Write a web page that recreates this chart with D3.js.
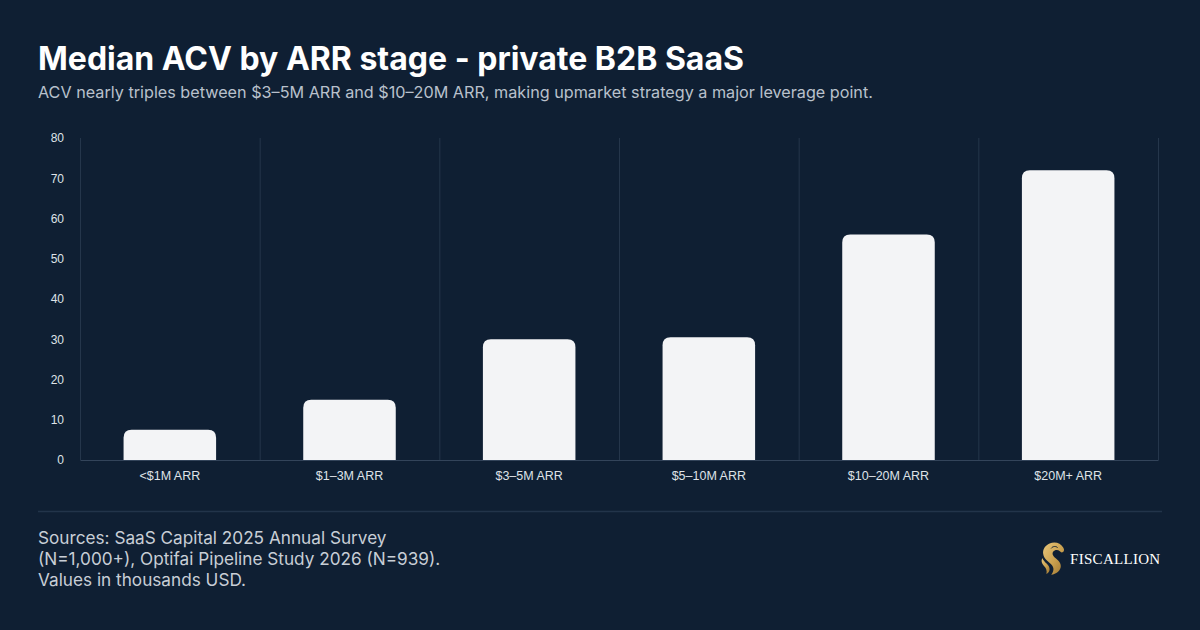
<!DOCTYPE html>
<html>
<head>
<meta charset="utf-8">
<script src="https://cdn.jsdelivr.net/npm/d3@7"></script>
<style>
    html, body { margin: 0; padding: 0; background: #0f1f33; }
    svg { display: block; }
</style>
</head>
<body>
<div id="chart"></div>
<script>
// chart data
let stages = ["<$1M ARR", "$1–3M ARR", "$3–5M ARR", "$5–10M ARR", "$10–20M ARR", "$20M+ ARR"];
let acv = [7.5, 15, 30, 30.5, 56, 72];
let yTicks = [0, 10, 20, 30, 40, 50, 60, 70, 80];

let titleText = "Median ACV by ARR stage - private B2B SaaS";
let subtitleText = "ACV nearly triples between $3–5M ARR and $10–20M ARR, making upmarket strategy a major leverage point.";
let sourceLines = [
    "Sources: SaaS Capital 2025 Annual Survey",
    "(N=1,000+), Optifai Pipeline Study 2026 (N=939).",
    "Values in thousands USD."
];

let W = 1200, H = 630;
let margin = { top: 138, right: 42, bottom: 170, left: 80 },
    width = W - margin.left - margin.right,
    height = H - margin.top - margin.bottom;

let svg = d3.select("#chart")
    .append("svg")
    .attr("width", W)
    .attr("height", H);

svg.append("rect")
    .attr("width", W)
    .attr("height", H)
    .attr("fill", "#0f1f33");

// title + subtitle
svg.append("text")
    .attr("x", 38)
    .attr("y", 70)
    .attr("fill", "#ffffff")
    .style("font", "700 32px Inter")
    .text(titleText);

svg.append("text")
    .attr("x", 38)
    .attr("y", 98)
    .attr("fill", "#b9c1cc")
    .style("font", "400 16.2px Inter")
    .text(subtitleText);

let g = svg.append("g")
    .attr("transform", "translate(" + margin.left + "," + margin.top + ")");

// scales
let x = d3.scaleBand()
    .domain(stages)
    .range([0, width])
    .padding(0);

let y = d3.scaleLinear()
    .domain([0, 80])
    .range([height, 0]);

// vertical separators between categories
let edges = stages.map(d => x(d)).concat([width]);
g.append("g")
    .selectAll("line")
    .data(edges)
    .enter()
    .append("line")
    .attr("x1", d => d + 0.5)
    .attr("x2", d => d + 0.5)
    .attr("y1", 0)
    .attr("y2", height)
    .attr("stroke", "#25364b")
    .attr("stroke-width", 1);

// Y axis (labels only)
let yAxis = g.append("g")
    .call(d3.axisLeft(y).tickValues(yTicks).tickSize(0).tickPadding(16));
yAxis.select(".domain").remove();
yAxis.selectAll("text")
    .attr("fill", "#dfe3e8")
    .style("font", "12px 'Liberation Sans', Arial, sans-serif");

// bars with rounded top corners
let barW = x.bandwidth() * 0.515;
let r = 8;
let barPath = function (d, i) {
    let cx = x(stages[i]) + x.bandwidth() / 2;
    let x0 = cx - barW / 2, x1 = cx + barW / 2;
    let y0 = height, yt = y(d);
    let rr = Math.min(r, (y0 - yt));
    return "M" + x0 + "," + y0 +
        "V" + (yt + rr) +
        "Q" + x0 + "," + yt + " " + (x0 + rr) + "," + yt +
        "H" + (x1 - rr) +
        "Q" + x1 + "," + yt + " " + x1 + "," + (yt + rr) +
        "V" + y0 + "Z";
};

g.append("g")
    .selectAll("path")
    .data(acv)
    .enter()
    .append("path")
    .attr("d", barPath)
    .attr("fill", "#f3f4f6");

// X axis
let xAxis = g.append("g")
    .attr("transform", "translate(0," + height + ")")
    .call(d3.axisBottom(x).tickSize(0).tickPadding(11));
xAxis.select(".domain")
    .attr("stroke", "#33445a")
    .attr("stroke-width", 1);
xAxis.selectAll("text")
    .attr("fill", "#dfe3e8")
    .style("font", "12.5px 'Liberation Sans', Arial, sans-serif");

// footer separator
svg.append("line")
    .attr("x1", 38)
    .attr("x2", 1162)
    .attr("y1", 511.5)
    .attr("y2", 511.5)
    .attr("stroke", "#22344a")
    .attr("stroke-width", 1.5);

// sources
svg.append("g")
    .selectAll("text")
    .data(sourceLines)
    .enter()
    .append("text")
    .attr("x", 38)
    .attr("y", (d, i) => 544 + i * 21)
    .attr("fill", "#c8ced6")
    .style("font", "400 17.2px Inter")
    .text(d => d);

// logo
let defs = svg.append("defs");
let grad = defs.append("linearGradient")
    .attr("id", "gold")
    .attr("x1", "0").attr("y1", "0")
    .attr("x2", "1").attr("y2", "1");
grad.append("stop").attr("offset", "0%").attr("stop-color", "#e8c67a");
grad.append("stop").attr("offset", "55%").attr("stop-color", "#c9a04f");
grad.append("stop").attr("offset", "100%").attr("stop-color", "#9c7430");

let logo = svg.append("g")
    .attr("transform", "translate(1040,542) scale(0.8)");
// head / mane shape
logo.append("path")
    .attr("d", "M12,2 C18,-1 26,1 29,7 C31,10 30,13 27,13 C25,12 24,10 21,10 C17,10 15,13 16,16 C18,21 26,23 26,30 C26,36 20,40 14,41 C17,37 18,33 15,29 C12,25 5,22 4,15 C3,9 7,4 12,2 Z")
    .attr("fill", "url(#gold)");
logo.append("path")
    .attr("d", "M3,20 C5,26 12,28 12,34 C12,37 10,39 8,40 C9,36 8,33 5,30 C2,27 1,23 3,20 Z")
    .attr("fill", "url(#gold)");
logo.append("path")
    .attr("d", "M14,8 C16,5 20,5 22,7")
    .attr("stroke", "#0f1f33")
    .attr("stroke-width", 1.2)
    .attr("fill", "none");

svg.append("text")
    .attr("x", 1070)
    .attr("y", 564)
    .attr("fill", "#ffffff")
    .style("font", "400 15px 'Liberation Serif', 'DejaVu Serif', serif")
    .style("letter-spacing", "0.3px")
    .text("FISCALLION");
</script>
</body>
</html>
